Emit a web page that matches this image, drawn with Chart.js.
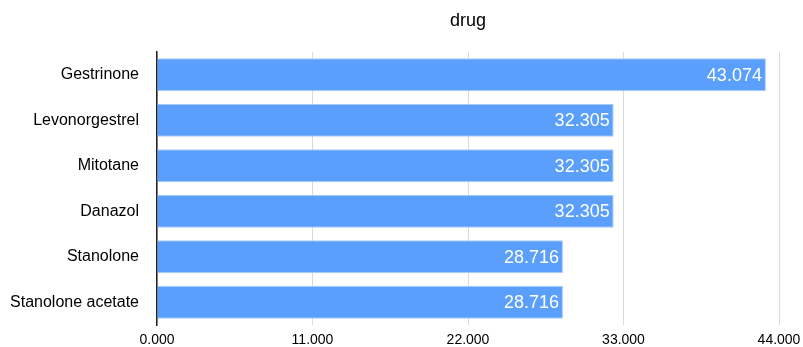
<!DOCTYPE html>
<html lang="en">
<head>
    <meta charset="UTF-8">
    <title>drug</title>
    <style>
        body {
            margin: 0;
            padding: 0;
            background: #ffffff;
        }
        .chart-container {
            position: relative;
            width: 803px;
            height: 347px;
        }
    </style>
    <script src="https://cdn.jsdelivr.net/npm/chart.js"></script>
</head>
<body>
    <div class="chart-container">
        <canvas id="drugChart"></canvas>
    </div>

    <script>
        const drugs = ['Gestrinone', 'Levonorgestrel', 'Mitotane', 'Danazol', 'Stanolone', 'Stanolone acetate'];
        const values = [43.074, 32.305, 32.305, 32.305, 28.716, 28.716];
        const xTicks = [0, 11, 22, 33, 44];
        const chartTitle = 'drug';

        const fontFamily = 'Helvetica, Arial, "Liberation Sans", sans-serif';

        // title centred over the plot area, and the value inside the end of every bar
        const barLabels = {
            id: 'barLabels',
            afterDatasetsDraw(chart) {
                const ctx = chart.ctx;
                const area = chart.chartArea;
                const meta = chart.getDatasetMeta(0);
                ctx.save();
                ctx.fillStyle = '#000000';
                ctx.font = '18px ' + fontFamily;
                ctx.textAlign = 'center';
                ctx.textBaseline = 'middle';
                ctx.fillText(chartTitle, (area.left + area.right) / 2, 21);

                ctx.fillStyle = '#ffffff';
                ctx.textAlign = 'right';
                meta.data.forEach((bar, i) => {
                    ctx.fillText(values[i].toFixed(3), bar.x - 4, bar.y + 1);
                });
                ctx.restore();
            }
        };

        const ctx = document.getElementById('drugChart').getContext('2d');
        new Chart(ctx, {
            type: 'bar',
            data: {
                labels: drugs,
                datasets: [{
                    label: 'drug',
                    data: values,
                    backgroundColor: '#5b9ffc',
                    borderColor: '#a9ccfb',
                    borderWidth: 1,
                    categoryPercentage: 0.73,
                    barPercentage: 1
                }]
            },
            options: {
                indexAxis: 'y',
                responsive: true,
                maintainAspectRatio: false,
                animation: false,
                layout: {
                    padding: { left: 0, right: 24, top: 52, bottom: 0 }
                },
                plugins: {
                    legend: { display: false },
                    tooltip: { enabled: false },
                    title: { display: false }
                },
                scales: {
                    x: {
                        min: 0,
                        max: 44,
                        afterBuildTicks(axis) {
                            axis.ticks = xTicks.map(v => ({ value: v }));
                        },
                        afterFit(axis) {
                            axis.height = 22;
                            axis.paddingLeft = 0;
                            axis.paddingRight = 0;
                        },
                        ticks: {
                            color: '#000000',
                            padding: 7,
                            font: { family: fontFamily, size: 14 },
                            callback: v => Number(v).toFixed(3)
                        },
                        grid: {
                            color: '#d9d9d9',
                            drawTicks: false
                        },
                        border: { display: false }
                    },
                    y: {
                        afterFit(axis) {
                            axis.width = 157;
                            axis.paddingTop = 0;
                            axis.paddingBottom = 0;
                        },
                        ticks: {
                            color: '#000000',
                            padding: 18,
                            font: { family: fontFamily, size: 16 }
                        },
                        grid: {
                            display: false,
                            drawTicks: false
                        },
                        border: { display: true, color: '#222222', width: 1.5 }
                    }
                }
            },
            plugins: [barLabels]
        });
    </script>
</body>
</html>
